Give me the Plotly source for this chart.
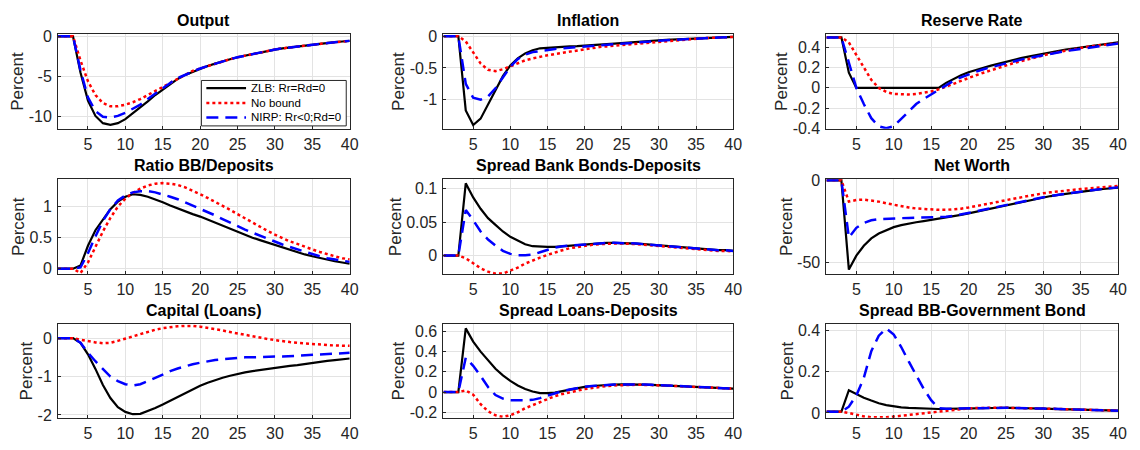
import plotly.graph_objects as go

# ---------------- data ----------------
periods = list(range(1, 41))
x_ticks = [5, 10, 15, 20, 25, 30, 35, 40]

series_names = ["ZLB: Rr=Rd=0", "No bound", "NIRP: Rr<0;Rd=0"]

# Output
output_zlb = [0, 0, 0, -4.5, -8.0, -9.9, -10.8, -11.0, -10.8, -10.3, -9.6, -8.9, -8.1, -7.3, -6.6, -5.9, -5.3, -4.8, -4.4, -4.0,
              -3.7, -3.4, -3.1, -2.85, -2.6, -2.4, -2.2, -2.0, -1.8, -1.65, -1.5, -1.38, -1.25, -1.13, -1.02, -0.92, -0.82, -0.73, -0.65, -0.57]
output_nobound = [0, 0, 0, -3.0, -5.6, -7.3, -8.3, -8.7, -8.7, -8.5, -8.2, -7.8, -7.3, -6.8, -6.3, -5.8, -5.2, -4.7, -4.3, -4.0,
                  -3.7, -3.4, -3.1, -2.85, -2.6, -2.4, -2.2, -2.0, -1.8, -1.65, -1.5, -1.38, -1.25, -1.13, -1.02, -0.92, -0.82, -0.73, -0.65, -0.57]
output_nirp = [0, 0, 0, -4.2, -7.6, -9.3, -10.0, -10.1, -9.9, -9.5, -9.0, -8.5, -7.8, -7.1, -6.4, -5.8, -5.2, -4.8, -4.4, -4.0,
               -3.7, -3.4, -3.1, -2.85, -2.6, -2.4, -2.2, -2.0, -1.8, -1.65, -1.5, -1.38, -1.25, -1.13, -1.02, -0.92, -0.82, -0.73, -0.65, -0.57]
output_yticks = [-10, -5, 0]

# Inflation
inflation_zlb = [0, 0, 0, -1.17, -1.4, -1.3, -1.07, -0.84, -0.63, -0.46, -0.35, -0.27, -0.22, -0.19, -0.18, -0.17, -0.165, -0.16, -0.155, -0.15,
                 -0.145, -0.135, -0.125, -0.115, -0.105, -0.095, -0.088, -0.08, -0.072, -0.065, -0.058, -0.052, -0.046, -0.04, -0.035, -0.03, -0.025, -0.02, -0.015, -0.01]
inflation_nobound = [0, 0, 0, -0.08, -0.25, -0.43, -0.53, -0.55, -0.52, -0.47, -0.42, -0.38, -0.35, -0.32, -0.3, -0.28, -0.26, -0.24, -0.22, -0.2,
                     -0.19, -0.17, -0.16, -0.15, -0.13, -0.12, -0.11, -0.1, -0.09, -0.08, -0.07, -0.06, -0.05, -0.045, -0.04, -0.03, -0.025, -0.02, -0.015, -0.01]
inflation_nirp = [0, 0, 0, -0.75, -0.97, -1.0, -0.95, -0.82, -0.65, -0.48, -0.36, -0.29, -0.25, -0.23, -0.21, -0.2, -0.19, -0.18, -0.175, -0.17,
                  -0.16, -0.15, -0.14, -0.13, -0.12, -0.11, -0.1, -0.09, -0.08, -0.072, -0.064, -0.056, -0.05, -0.044, -0.038, -0.032, -0.026, -0.02, -0.015, -0.01]
inflation_yticks = [-1, -0.5, 0]

# Reserve Rate
reserve_zlb = [0.5, 0.5, 0.5, 0.15, 0, 0, 0, 0, 0, 0, 0, 0, 0, 0, 0, 0, 0.05, 0.09, 0.125, 0.155,
               0.18, 0.2, 0.22, 0.24, 0.26, 0.28, 0.295, 0.31, 0.325, 0.34, 0.355, 0.37, 0.38, 0.39, 0.4, 0.41, 0.42, 0.43, 0.44, 0.45]
reserve_nobound = [0.5, 0.5, 0.5, 0.45, 0.33, 0.2, 0.08, 0.0, -0.04, -0.06, -0.065, -0.065, -0.06, -0.05, -0.035, -0.015, 0.01, 0.04, 0.07, 0.1,
                   0.125, 0.15, 0.175, 0.2, 0.225, 0.245, 0.265, 0.285, 0.305, 0.325, 0.34, 0.355, 0.37, 0.385, 0.398, 0.408, 0.418, 0.427, 0.435, 0.443]
reserve_nirp = [0.5, 0.5, 0.5, 0.25, 0, -0.16, -0.3, -0.38, -0.4, -0.38, -0.31, -0.23, -0.16, -0.11, -0.066, -0.02, 0.03, 0.07, 0.105, 0.135,
                0.16, 0.185, 0.205, 0.225, 0.245, 0.265, 0.28, 0.295, 0.31, 0.325, 0.34, 0.355, 0.365, 0.375, 0.385, 0.395, 0.405, 0.415, 0.425, 0.44]
reserve_yticks = [-0.4, -0.2, 0, 0.2, 0.4]

# Ratio BB/Deposits
ratio_zlb = [0, 0, 0, 0.05, 0.37, 0.62, 0.8, 0.96, 1.08, 1.16, 1.2, 1.19, 1.16, 1.12, 1.07, 1.02, 0.97, 0.92, 0.88, 0.84,
             0.79, 0.74, 0.69, 0.64, 0.59, 0.55, 0.5, 0.46, 0.42, 0.38, 0.34, 0.3, 0.26, 0.23, 0.2, 0.17, 0.14, 0.12, 0.1, 0.08]
ratio_nobound = [0, 0, 0, -0.07, 0.1, 0.35, 0.6, 0.82, 1.0, 1.13, 1.22, 1.29, 1.34, 1.37, 1.38, 1.37, 1.35, 1.31, 1.26, 1.2,
                 1.14, 1.08, 1.02, 0.95, 0.88, 0.81, 0.74, 0.67, 0.61, 0.55, 0.49, 0.44, 0.4, 0.35, 0.31, 0.27, 0.23, 0.2, 0.17, 0.15]
ratio_nirp = [0, 0, 0, 0.02, 0.25, 0.52, 0.77, 0.96, 1.1, 1.18, 1.23, 1.25, 1.25, 1.23, 1.2, 1.16, 1.12, 1.07, 1.02, 0.97,
              0.92, 0.86, 0.8, 0.74, 0.69, 0.63, 0.58, 0.53, 0.48, 0.44, 0.39, 0.35, 0.31, 0.27, 0.24, 0.2, 0.17, 0.15, 0.13, 0.11]
ratio_yticks = [0, 0.5, 1]

# Spread Bank Bonds-Deposits
sbd_zlb = [0, 0, 0, 0.108, 0.087, 0.07, 0.056, 0.046, 0.036, 0.028, 0.022, 0.017, 0.014, 0.013, 0.013, 0.013, 0.014, 0.015, 0.016, 0.017,
           0.018, 0.018, 0.019, 0.019, 0.019, 0.018, 0.018, 0.017, 0.016, 0.015, 0.014, 0.013, 0.012, 0.011, 0.011, 0.01, 0.009, 0.008, 0.008, 0.007]
sbd_nobound = [0, 0, 0, -0.004, -0.012, -0.019, -0.024, -0.027, -0.027, -0.023, -0.018, -0.012, -0.007, -0.003, 0.001, 0.005, 0.008, 0.011, 0.013, 0.015,
               0.016, 0.017, 0.018, 0.018, 0.018, 0.018, 0.017, 0.016, 0.015, 0.014, 0.013, 0.012, 0.011, 0.01, 0.009, 0.009, 0.008, 0.007, 0.007, 0.006]
sbd_nirp = [0, 0, 0, 0.068, 0.053, 0.036, 0.024, 0.015, 0.007, 0.0025, 0.0005, 0.0005, 0.0015, 0.005, 0.009, 0.012, 0.014, 0.015, 0.016, 0.017,
            0.018, 0.018, 0.019, 0.019, 0.019, 0.018, 0.018, 0.017, 0.016, 0.015, 0.014, 0.013, 0.012, 0.011, 0.011, 0.01, 0.009, 0.008, 0.008, 0.007]
sbd_yticks = [0, 0.05, 0.1]

# Net Worth
networth_zlb = [0, 0, 0, -54.5, -46, -40, -35.5, -32.5, -30.3, -28.6, -27.4, -26.4, -25.6, -24.9, -24.2, -23.5, -22.8, -22.0, -21.1, -20.2,
                -19.2, -18.2, -17.2, -16.2, -15.3, -14.3, -13.3, -12.3, -11.3, -10.4, -9.6, -8.9, -8.2, -7.5, -6.8, -6.3, -5.8, -5.3, -4.8, -4.4]
networth_nobound = [0, 0, 0, -13, -12, -11.8, -12.2, -13, -14, -15, -15.9, -16.6, -17.2, -17.6, -17.9, -18, -18, -17.8, -17.3, -16.6,
                    -15.8, -15, -14.1, -13.1, -12.1, -11.2, -10.3, -9.4, -8.6, -7.9, -7.3, -6.7, -6.2, -5.7, -5.3, -4.9, -4.5, -4.1, -3.7, -3.4]
networth_nirp = [0, 0, 0, -35, -29, -26, -24.4, -23.7, -23.4, -23.2, -23.1, -23, -22.9, -22.8, -22.7, -22.5, -22.2, -21.7, -20.9, -20,
                 -19, -18, -17, -16, -15, -14, -13, -12.1, -11.2, -10.3, -9.5, -8.8, -8.1, -7.4, -6.8, -6.2, -5.7, -5.2, -4.7, -4.3]
networth_yticks = [-50, 0]

# Capital (Loans)
capital_zlb = [0, 0, 0, -0.12, -0.42, -0.8, -1.22, -1.56, -1.8, -1.92, -1.98, -1.97, -1.9, -1.82, -1.73, -1.63, -1.53, -1.43, -1.33, -1.24,
               -1.16, -1.09, -1.03, -0.98, -0.93, -0.89, -0.86, -0.83, -0.8, -0.77, -0.75, -0.72, -0.7, -0.67, -0.64, -0.62, -0.59, -0.57, -0.55, -0.53]
capital_nobound = [0, 0, 0, -0.04, -0.08, -0.11, -0.13, -0.12, -0.07, -0.01, 0.05, 0.11, 0.17, 0.22, 0.26, 0.29, 0.31, 0.32, 0.32, 0.3,
                   0.27, 0.24, 0.2, 0.16, 0.12, 0.08, 0.04, 0.01, -0.02, -0.05, -0.08, -0.1, -0.12, -0.14, -0.16, -0.17, -0.18, -0.19, -0.2, -0.2]
capital_nirp = [0, 0, 0, -0.12, -0.38, -0.6, -0.8, -1.0, -1.12, -1.2, -1.23, -1.2, -1.12, -1.03, -0.94, -0.86, -0.79, -0.73, -0.68, -0.64,
                -0.6, -0.57, -0.55, -0.53, -0.51, -0.5, -0.5, -0.49, -0.49, -0.48, -0.48, -0.47, -0.46, -0.46, -0.45, -0.44, -0.43, -0.41, -0.4, -0.38]
capital_yticks = [-2, -1, 0]

# Spread Loans-Deposits
sld_zlb = [0, 0, 0, 0.63, 0.5, 0.4, 0.31, 0.23, 0.165, 0.11, 0.065, 0.03, 0.005, -0.01, -0.01, -0.005, 0.01, 0.025, 0.04, 0.052,
           0.06, 0.066, 0.071, 0.074, 0.076, 0.077, 0.076, 0.074, 0.072, 0.069, 0.066, 0.062, 0.058, 0.055, 0.051, 0.047, 0.044, 0.04, 0.037, 0.034]
sld_nobound = [0, 0, 0, 0.016, -0.026, -0.12, -0.19, -0.23, -0.245, -0.23, -0.2, -0.16, -0.13, -0.1, -0.067, -0.04, -0.02, 0.0, 0.013, 0.03,
               0.042, 0.052, 0.06, 0.066, 0.07, 0.072, 0.072, 0.071, 0.07, 0.068, 0.065, 0.061, 0.057, 0.054, 0.05, 0.046, 0.043, 0.04, 0.037, 0.034]
sld_nirp = [0, 0, 0, 0.34, 0.26, 0.16, 0.05, -0.03, -0.065, -0.08, -0.083, -0.082, -0.077, -0.06, -0.035, -0.01, 0.01, 0.025, 0.04, 0.052,
            0.06, 0.066, 0.071, 0.074, 0.076, 0.077, 0.076, 0.074, 0.072, 0.069, 0.066, 0.062, 0.058, 0.055, 0.051, 0.047, 0.044, 0.04, 0.037, 0.034]
sld_yticks = [-0.2, 0, 0.2, 0.4, 0.6]

# Spread BB-Government Bond
sbg_zlb = [0.006, 0.006, 0.006, 0.11, 0.09, 0.074, 0.06, 0.047, 0.038, 0.031, 0.027, 0.024, 0.022, 0.02, 0.019, 0.019, 0.02, 0.021, 0.022, 0.023,
           0.024, 0.025, 0.025, 0.025, 0.025, 0.024, 0.024, 0.023, 0.022, 0.021, 0.02, 0.019, 0.018, 0.017, 0.016, 0.015, 0.014, 0.013, 0.012, 0.011]
sbg_nobound = [0.006, 0.006, 0.006, 0.0, -0.01, -0.017, -0.021, -0.022, -0.021, -0.018, -0.014, -0.01, -0.006, -0.002, 0.003, 0.008, 0.013, 0.017, 0.02, 0.022,
               0.024, 0.025, 0.025, 0.025, 0.025, 0.024, 0.024, 0.023, 0.022, 0.021, 0.02, 0.019, 0.018, 0.017, 0.016, 0.015, 0.014, 0.013, 0.012, 0.011]
sbg_nirp = [0.006, 0.006, 0.006, 0.03, 0.085, 0.17, 0.3, 0.375, 0.41, 0.38, 0.32, 0.25, 0.18, 0.117, 0.062, 0.023, 0.02, 0.021, 0.022, 0.023,
            0.024, 0.025, 0.025, 0.025, 0.025, 0.024, 0.024, 0.023, 0.022, 0.021, 0.02, 0.019, 0.018, 0.017, 0.016, 0.015, 0.014, 0.013, 0.012, 0.011]
sbg_yticks = [0, 0.2, 0.4]

# ---------------- layout config ----------------
panels = [
    ("Output", (output_zlb, output_nobound, output_nirp), output_yticks, [-11.5, 0.24]),
    ("Inflation", (inflation_zlb, inflation_nobound, inflation_nirp), inflation_yticks, [-1.46, 0.03]),
    ("Reserve Rate", (reserve_zlb, reserve_nobound, reserve_nirp), reserve_yticks, [-0.405, 0.53]),
    ("Ratio BB/Deposits", (ratio_zlb, ratio_nobound, ratio_nirp), ratio_yticks, [-0.09, 1.44]),
    ("Spread Bank Bonds-Deposits", (sbd_zlb, sbd_nobound, sbd_nirp), sbd_yticks, [-0.028, 0.114]),
    ("Net Worth", (networth_zlb, networth_nobound, networth_nirp), networth_yticks, [-57.4, 0.6]),
    ("Capital (Loans)", (capital_zlb, capital_nobound, capital_nirp), capital_yticks, [-2.075, 0.36]),
    ("Spread Loans-Deposits", (sld_zlb, sld_nobound, sld_nirp), sld_yticks, [-0.255, 0.67]),
    ("Spread BB-Government Bond", (sbg_zlb, sbg_nobound, sbg_nirp), sbg_yticks, [-0.024, 0.43]),
]

W, H = 1140, 450
col_px = [(58.5, 352.5), (447, 739), (833, 1127)]
row_px = [(28.3, 126), (178.3, 276.5), (328.3, 425)]

styles = [
    dict(color="#000000", width=2.2, dash="solid"),
    dict(color="#ff0000", width=2.5, dash="dot"),
    dict(color="#0000ff", width=2.5, dash="12px,7px"),
]

FONT = "Liberation Sans, Arial, Helvetica, sans-serif"
TXT = "#262626"


def fmt(v):
    return "%g" % v


fig = go.Figure()
annotations = []
layout = {}

for i, (title, series, yticks, yrange) in enumerate(panels):
    r, c = divmod(i, 3)
    n = "" if i == 0 else str(i + 1)
    xa, ya = "x" + n, "y" + n
    for name, vals, st in zip(series_names, series, styles):
        fig.add_trace(go.Scatter(
            x=periods, y=vals, mode="lines", name=name, xaxis=xa, yaxis=ya,
            line=dict(color=st["color"], width=st["width"], dash=st["dash"]),
            showlegend=False, hoverinfo="skip"))
    x0, x1 = col_px[c]
    yt, yb = row_px[r]
    common = dict(showline=True, mirror=True, linecolor=TXT, linewidth=1,
                  showgrid=True, gridcolor="#e3e3e3", gridwidth=1, zeroline=False,
                  ticks="inside", ticklen=3, tickcolor=TXT,
                  tickfont=dict(family=FONT, size=16, color=TXT))
    layout["xaxis" + n] = dict(domain=[x0 / W, x1 / W], anchor=ya, range=[1, 40],
                               tickmode="array", tickvals=x_ticks,
                               ticktext=[fmt(v) for v in x_ticks],
                               ticklabelstandoff=1, **common)
    layout["yaxis" + n] = dict(domain=[1 - yb / H, 1 - yt / H], anchor=xa, range=yrange,
                               tickmode="array", tickvals=yticks,
                               ticktext=[fmt(v) for v in yticks],
                               ticklabelstandoff=2,
                               title=dict(text="Percent", standoff=0,
                                          font=dict(family=FONT, size=17, color=TXT)),
                               **common)
    annotations.append(dict(
        text="<b>%s</b>" % title, xref="paper", yref="paper",
        x=(x0 + x1) / 2 / W, y=1 - yt / H, xanchor="center", yanchor="bottom",
        yshift=3, showarrow=False, font=dict(family=FONT, size=16, color="#000000")))

# legend drawn inside the Output panel (paper coordinates)
lg_x0, lg_x1, lg_y0, lg_y1 = 203, 349, 76, 123
shapes = [dict(type="rect", xref="paper", yref="paper", layer="above",
               x0=lg_x0 / W, x1=lg_x1 / W, y0=1 - lg_y1 / H, y1=1 - lg_y0 / H,
               fillcolor="white", line=dict(color=TXT, width=1))]
row_y = [84, 99.3, 114.3]
for name, st, yy in zip(series_names, styles, row_y):
    shapes.append(dict(type="line", xref="paper", yref="paper", layer="above",
                       x0=208 / W, x1=248 / W, y0=1 - yy / H, y1=1 - yy / H,
                       line=dict(color=st["color"], width=st["width"], dash=st["dash"])))
    annotations.append(dict(text=name, xref="paper", yref="paper", x=251 / W, y=1 - yy / H,
                            xanchor="left", yanchor="middle", showarrow=False,
                            font=dict(family=FONT, size=11.5, color="#000000")))

fig.update_layout(
    width=W, height=H, margin=dict(l=0, r=0, t=0, b=0),
    paper_bgcolor="white", plot_bgcolor="white",
    showlegend=False, annotations=annotations, shapes=shapes,
    font=dict(family=FONT, color=TXT),
    **layout)

fig.write_html("out.html")
